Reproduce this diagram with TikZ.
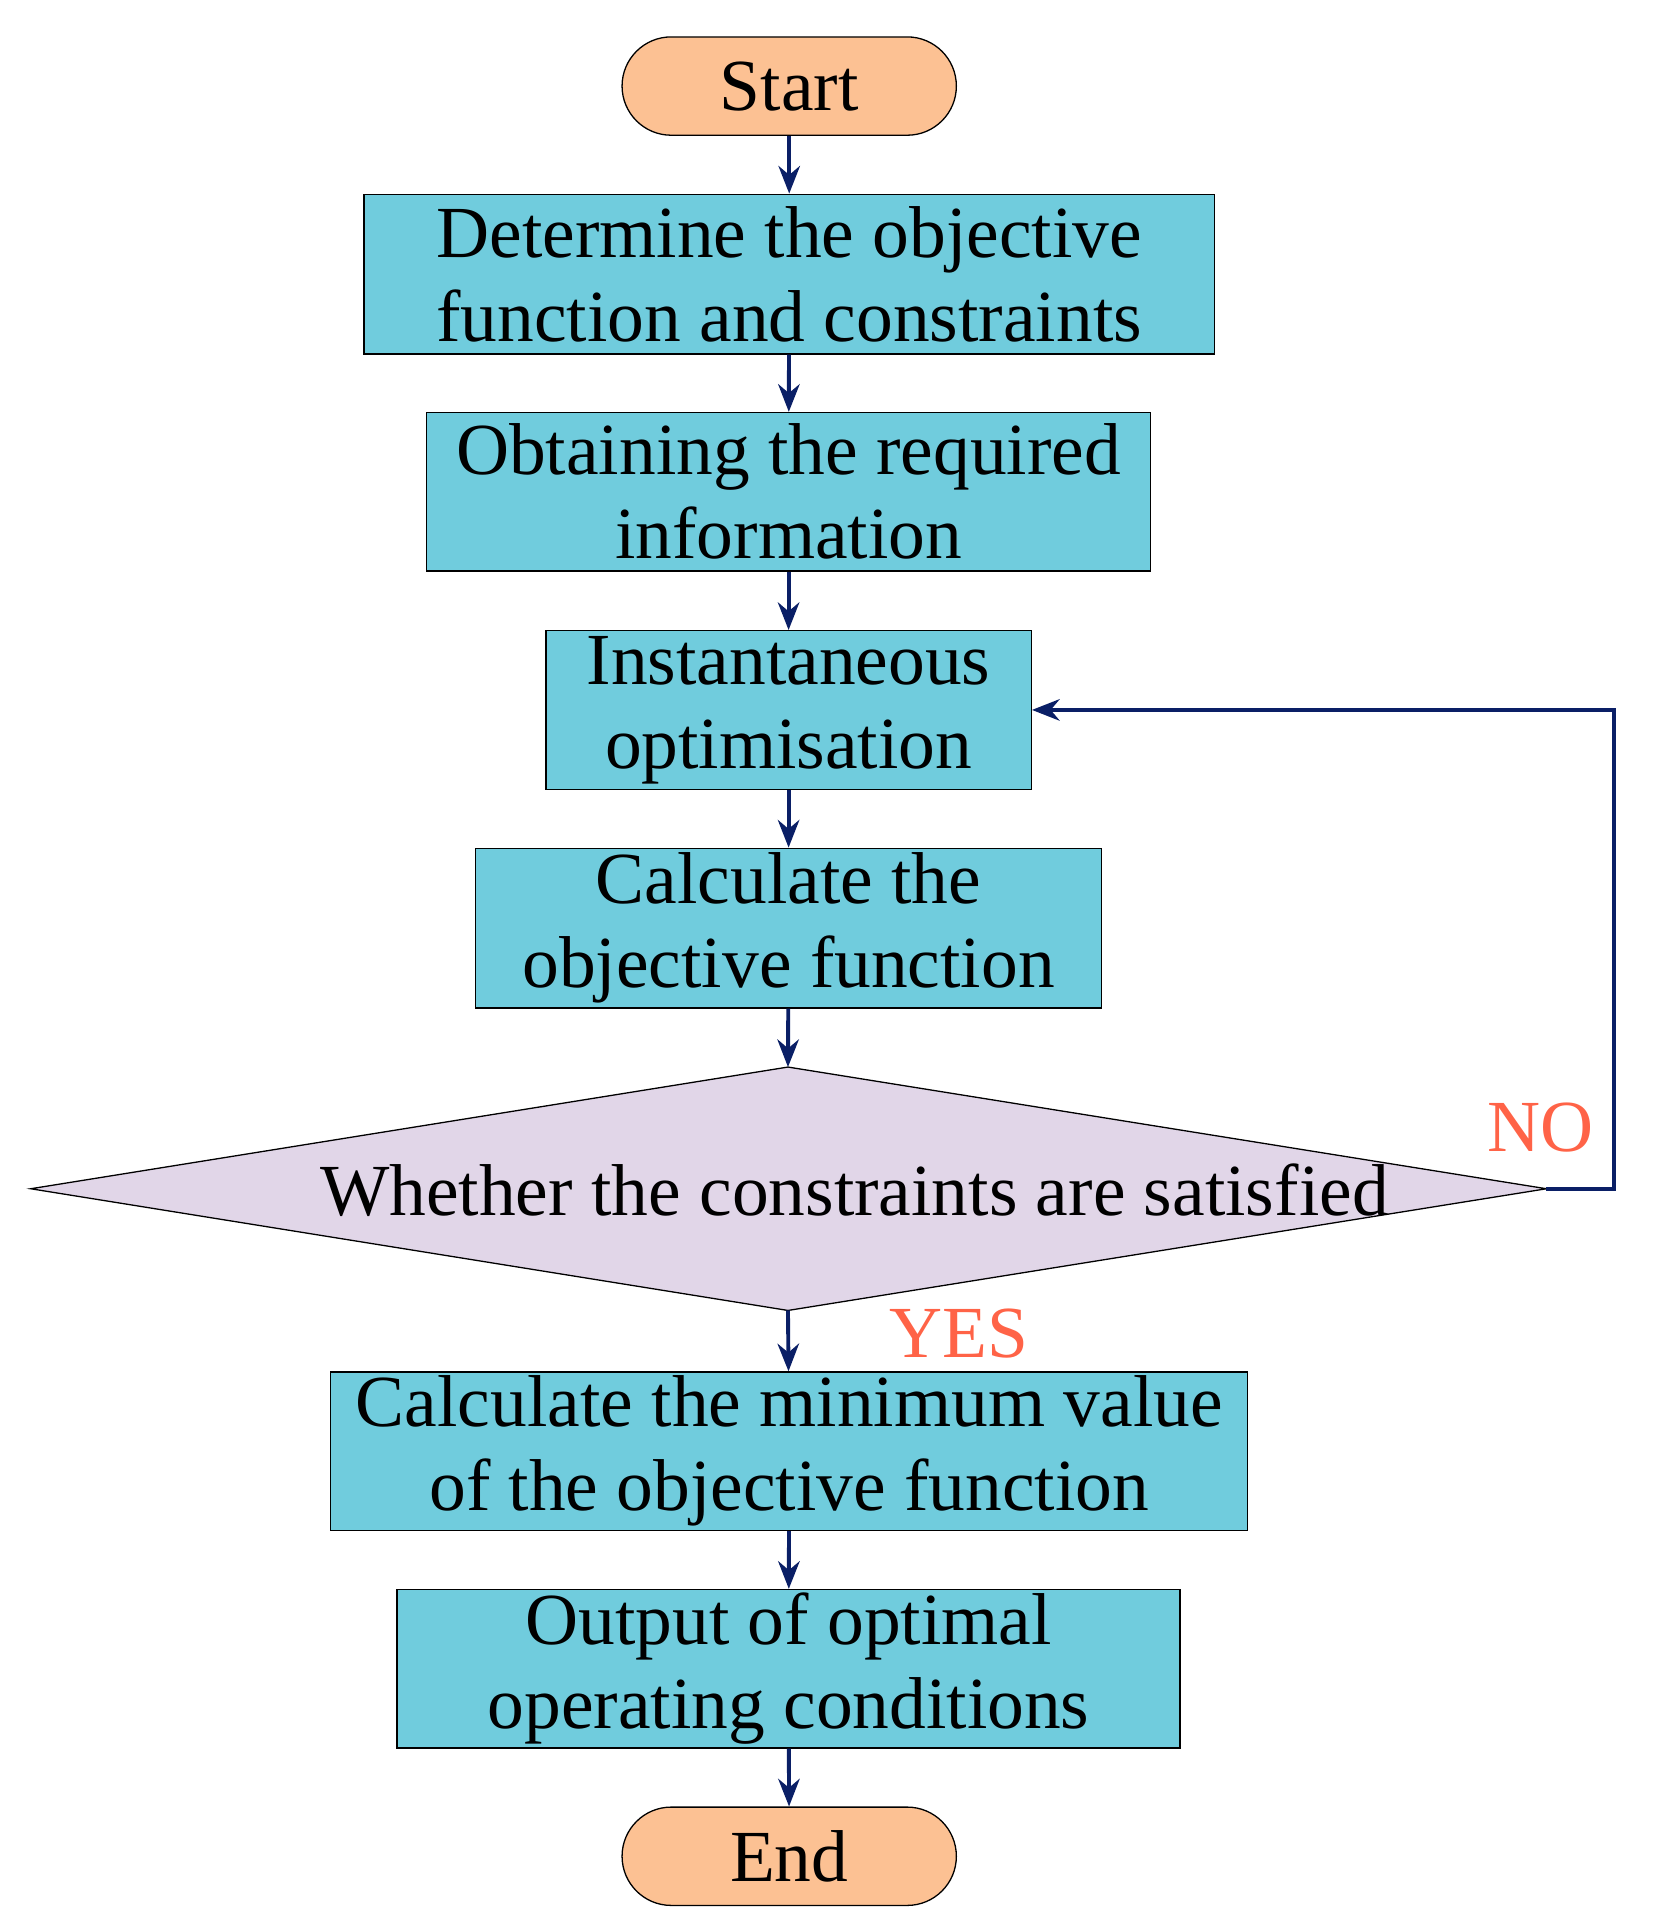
\documentclass[tikz,border=0pt]{standalone}
\usepackage{fontspec}
\setmainfont{Liberation Serif}
\usetikzlibrary{arrows.meta}
\definecolor{boxc}{HTML}{70CCDD}
\definecolor{diac}{HTML}{E1D6E8}
\definecolor{startc}{HTML}{FCC193}
\definecolor{arrc}{HTML}{0A1F66}
\definecolor{labc}{HTML}{FF6347}
\begin{document}
\begin{tikzpicture}[x=0.02cm,y=-0.02cm,
  box/.style={draw=black,line width=0.6pt,fill=boxc,inner sep=0pt,align=center,font=\fontsize{34}{39}\selectfont},
  term/.style={draw=black,line width=0.6pt,fill=startc,rounded corners=0.8cm,inner sep=0pt,minimum width=5.44cm,minimum height=1.6cm,font=\fontsize{34}{39}\selectfont},
  arr/.style={draw=arrc,line width=1.8pt,-{Stealth[length=0.45cm,width=0.35cm]}},
  lab/.style={text=labc,font=\fontsize{34}{39}\selectfont}]
\useasboundingbox (0,0) rectangle (1350,1570);
\node[term] (start) at (642,70) {Start};
\node[box,minimum width=13.84cm,minimum height=2.6cm] (b1) at (642,223) {Determine the objective\\function and constraints};
\node[box,minimum width=11.78cm,minimum height=2.58cm] (b2) at (641.5,400) {Obtaining the required\\information};
\node[box,minimum width=7.9cm,minimum height=2.58cm] (b3) at (641.5,577.5) {Instantaneous\\optimisation};
\node[box,minimum width=10.18cm,minimum height=2.6cm] (b4) at (641.5,755) {Calculate the\\objective function};
\coordinate (dt) at (641,868);
\coordinate (db) at (641,1066);
\coordinate (dl) at (25,967);
\coordinate (dr) at (1258,967);
\path[draw=black,line width=0.6pt,fill=diac] (dt) -- (dr) -- (db) -- (dl) -- cycle;
\node[font=\fontsize{34}{39}\selectfont] (dtext) at (695,968) {Whether the constraints are satisfied};
\node[box,minimum width=14.92cm,minimum height=2.58cm] (b5) at (642,1180.5) {Calculate the minimum value\\of the objective function};
\node[box,minimum width=12.74cm,minimum height=2.58cm] (b6) at (641.5,1357.5) {Output of optimal\\operating conditions};
\node[term] (end) at (642,1510) {End};
\draw[arr] (start) -- (b1);
\draw[arr] (b1) -- (b2);
\draw[arr] (b2) -- (b3);
\draw[arr] (b3) -- (b4);
\draw[arr] (b4) -- (dt);
\draw[arr] (db) -- (b5);
\draw[arr] (b5) -- (b6);
\draw[arr] (b6) -- (end);
\coordinate (lc) at (1313,967);
\draw[arr] (dr) -- (lc) |- (b3.east);
\node[lab] (no) at (1253,917) {NO};
\node[lab] (yes) at (780,1085) {YES};
\end{tikzpicture}
\end{document}
